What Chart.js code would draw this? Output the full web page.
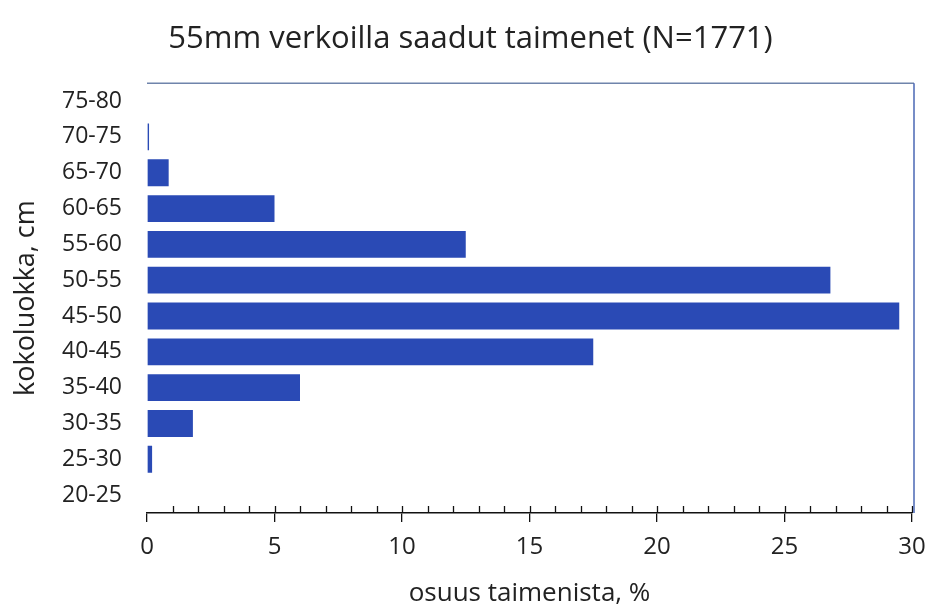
<!DOCTYPE html>
<html>
<head>
<meta charset="utf-8">
<script src="https://cdn.jsdelivr.net/npm/chart.js@4"></script>
<style>
  html, body { margin: 0; padding: 0; background: #fff; }
  #wrap { width: 931px; height: 609px; position: relative; }
</style>
</head>
<body>
<div id="wrap"><canvas id="c" width="931" height="609"></canvas></div>
<script>
const categories = ['20-25','25-30','30-35','35-40','40-45','45-50','50-55','55-60','60-65','65-70','70-75','75-80'];
const shares = [0, 0.2, 1.8, 6.0, 17.5, 29.5, 26.8, 12.5, 5.0, 0.85, 0.08, 0];
const xTicks = [0, 5, 10, 15, 20, 25, 30];
const titleText = '55mm verkoilla saadut taimenet (N=1771)';
const xTitle = 'osuus taimenista, %';
const yTitle = 'kokoluokka, cm';

const FONT = "'Open Sans', sans-serif";

const decor = {
  id: 'decor',
  afterDraw(chart) {
    const ctx = chart.ctx;
    const a = chart.chartArea;
    const xs = chart.scales.x;
    ctx.save();
    // minor ticks upward
    ctx.strokeStyle = '#111';
    ctx.lineWidth = 1.3;
    for (let v = 1; v <= 30; v++) {
      const px = Math.round(xs.getPixelForValue(v)) + 0.5;
      ctx.beginPath();
      ctx.moveTo(px, a.bottom);
      ctx.lineTo(px, a.bottom - 7);
      ctx.stroke();
    }
    // top border
    ctx.strokeStyle = '#6f84ab';
    ctx.lineWidth = 1.5;
    ctx.beginPath();
    ctx.moveTo(a.left, a.top);
    ctx.lineTo(a.right + 2, a.top);
    ctx.stroke();
    // right border
    ctx.strokeStyle = '#4a67b5';
    ctx.beginPath();
    ctx.moveTo(a.right + 2, a.top);
    ctx.lineTo(a.right + 2, a.bottom);
    ctx.stroke();
    ctx.restore();
  }
};

new Chart(document.getElementById('c'), {
  type: 'bar',
  data: {
    labels: categories,
    datasets: [{
      data: shares,
      backgroundColor: '#2a4ab5',
      borderWidth: 0,
      barPercentage: 0.75,
      categoryPercentage: 1.0
    }]
  },
  options: {
    indexAxis: 'y',
    responsive: false,
    animation: false,
    layout: { padding: { left: 10, right: 0, top: 0, bottom: 0 } },
    plugins: {
      legend: { display: false },
      tooltip: { enabled: false },
      title: {
        display: true,
        text: titleText,
        color: '#222',
        font: { family: FONT, size: 31, weight: 'normal' },
        padding: { top: 21, bottom: 25 }
      }
    },
    scales: {
      x: {
        type: 'linear',
        min: 0,
        max: 30,
        afterBuildTicks: (s) => { s.ticks = xTicks.map(v => ({ value: v })); },
        afterFit: (s) => { s.height = 96; s.paddingRight = 19; s.paddingLeft = 0; },
        ticks: {
          color: '#222',
          font: { family: FONT, size: 24 },
          padding: 11
        },
        grid: {
          drawOnChartArea: false,
          drawTicks: true,
          tickLength: 9,
          color: '#111',
          lineWidth: 1.3
        },
        border: { display: true, color: '#111', width: 1.5 },
        title: {
          display: true,
          text: xTitle,
          color: '#222',
          font: { family: FONT, size: 26 },
          padding: { top: 0, bottom: 0 }
        }
      },
      y: {
        type: 'category',
        reverse: true,
        afterFit: (s) => { s.width = 137; },
        ticks: {
          color: '#222',
          font: { family: FONT, size: 23 },
          padding: 25,
          autoSkip: false
        },
        grid: { display: false, drawTicks: false },
        border: { display: false },
        title: {
          display: true,
          text: yTitle,
          color: '#222',
          font: { family: FONT, size: 27 },
          padding: { top: 0, bottom: 0 }
        }
      }
    }
  },
  plugins: [decor]
});
</script>
</body>
</html>
